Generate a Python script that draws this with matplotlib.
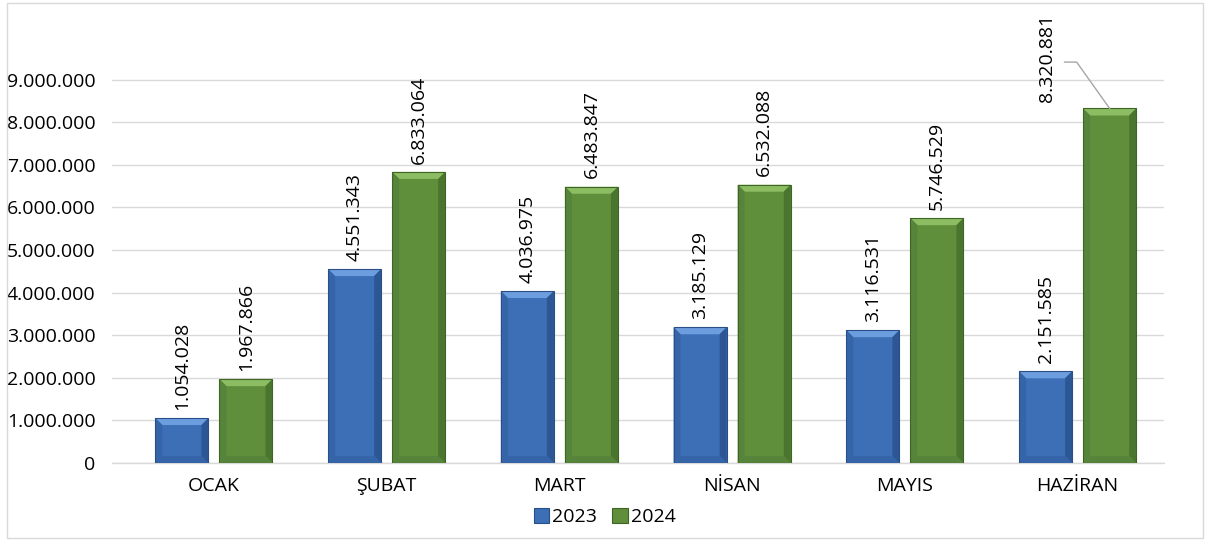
import matplotlib
matplotlib.use("Agg")
import matplotlib.pyplot as plt
from matplotlib.patches import Polygon, Rectangle
from matplotlib.ticker import FuncFormatter
import numpy as np

months = ["OCAK", "ŞUBAT", "MART", "NİSAN", "MAYIS", "HAZİRAN"]
series_names = ["2023", "2024"]
values_2023 = [1054028, 4551343, 4036975, 3185129, 3116531, 2151585]
values_2024 = [1967866, 6833064, 6483847, 6532088, 5746529, 8320881]
yticks = [0, 1000000, 2000000, 3000000, 4000000, 5000000, 6000000, 7000000, 8000000, 9000000]

plt.rcParams['font.family'] = ['Open Sans', 'DejaVu Sans']

fig = plt.figure(figsize=(12.07, 5.42), dpi=100)
ax_left_px, ax_right_px = 112, 1164
ax = fig.add_axes([ax_left_px / 1207, 0.1458, (ax_right_px - ax_left_px) / 1207, 0.786])

def fmt(v):
    return f"{int(round(v)):,}".replace(",", ".")

x = np.arange(len(months))
bw = 0.307
gap = 0.064
colors = {
    "2023": dict(face="#3d6fb6", light="#6c9ddf", side="#3565a8", dark="#2c5794", edge="#2a4f86"),
    "2024": dict(face="#5f8f3b", light="#8dbd62", side="#56843a", dark="#4a752e", edge="#3f6526"),
}

xl0 = -0.5 - 0.09
ax.set_xlim(xl0, len(months) - 0.5)
ax.set_ylim(0, 10000000)

ax_w_px = ax_right_px - ax_left_px
ax_h_px = 542 * 0.786
px_x = 7.0 / ax_w_px * (len(months) - 0.5 - xl0)
px_y = 7.0 / ax_h_px * 10000000

def bevel_bar(rect, c):
    x0 = rect.get_x(); w = rect.get_width(); h = rect.get_height()
    x1 = x0 + w; y0 = 0; y1 = h
    bx = min(px_x, w * 0.2); by = min(px_y, h * 0.2)
    polys = [
        ([(x0, y1), (x1, y1), (x1 - bx, y1 - by), (x0 + bx, y1 - by)], c["light"]),
        ([(x0, y0), (x0 + bx, y0 + by), (x0 + bx, y1 - by), (x0, y1)], c["side"]),
        ([(x1, y0), (x1, y1), (x1 - bx, y1 - by), (x1 - bx, y0 + by)], c["dark"]),
        ([(x0, y0), (x1, y0), (x1 - bx, y0 + by), (x0 + bx, y0 + by)], c["side"]),
    ]
    for pts, col in polys:
        ax.add_patch(Polygon(pts, closed=True, facecolor=col, edgecolor="none", zorder=3))
    ax.add_patch(Rectangle((x0, y0), w, h, fill=False, edgecolor=c["edge"], linewidth=0.8, zorder=4))

bars_all = []
for i, (name, vals) in enumerate(zip(series_names, [values_2023, values_2024])):
    offs = (-1 if i == 0 else 1) * (bw + gap) / 2
    bars = ax.bar(x + offs, vals, width=bw, color=colors[name]["face"], zorder=2,
                  edgecolor="none")
    for b in bars:
        bevel_bar(b, colors[name])
    bars_all.append((name, bars, vals))

# data labels
for name, bars, vals in bars_all:
    for j, (b, v) in enumerate(zip(bars, vals)):
        cx = b.get_x() + b.get_width() / 2
        if name == "2024" and j == len(months) - 1:
            lx = cx - 0.365
            ly = 9500000
            ax.text(lx, ly, fmt(v), rotation=90, ha="center", va="center",
                    fontsize=14, color="#000000", zorder=5, clip_on=False)
            ax.plot([lx + 0.104, lx + 0.174, cx], [9410000, 9410000, v],
                    color="#a6a6a6", linewidth=1.0, zorder=5, clip_on=False)
        else:
            ax.annotate(fmt(v), xy=(cx, v), xytext=(0, 6), textcoords="offset points",
                        rotation=90, ha="center", va="bottom", fontsize=14,
                        color="#000000", zorder=5, annotation_clip=False)

ax.set_yticks(yticks)
ax.yaxis.set_major_formatter(FuncFormatter(lambda v, p: fmt(v)))
ax.set_xticks(x)
ax.set_xticklabels(months)
ax.tick_params(axis="both", length=0, labelsize=14, colors="#000000")
ax.tick_params(axis="x", pad=10)
ax.tick_params(axis="y", pad=12)
ax.grid(axis="y", color="#d9d9d9", linewidth=1.0, zorder=0)
ax.set_axisbelow(True)
for s in ["top", "right", "left"]:
    ax.spines[s].set_visible(False)
ax.spines["bottom"].set_color("#d9d9d9")
ax.spines["bottom"].set_linewidth(1.0)

# legend
handles = [Rectangle((0, 0), 1, 1, facecolor=colors[n]["face"], edgecolor=colors[n]["edge"], linewidth=0.8)
           for n in series_names]
fig.legend(handles, series_names, loc="center", bbox_to_anchor=(0.501, 0.046), ncol=2,
           frameon=False, fontsize=14, handlelength=0.8, handleheight=0.8,
           handletextpad=0.15, columnspacing=0.8, borderpad=0)

# outer border
fig.add_artist(Rectangle((0.006, 0.007), 0.991, 0.988, transform=fig.transFigure,
                         fill=False, edgecolor="#d9d9d9", linewidth=1.0))

fig.savefig("out.png", dpi=100)
